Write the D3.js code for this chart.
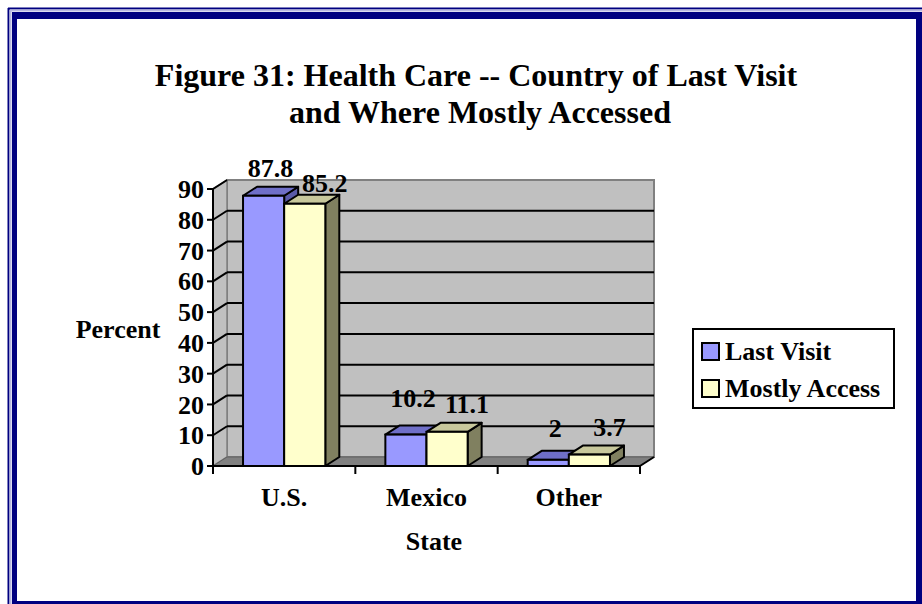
<!DOCTYPE html>
<html>
<head>
<meta charset="utf-8">
<script src="https://cdn.jsdelivr.net/npm/d3@7"></script>
<style>
  html, body { margin: 0; padding: 0; background: #fff; }
  svg { display: block; }
  text { font-family: "Liberation Serif", "Times New Roman", serif; font-weight: bold; fill: #000; }
</style>
</head>
<body>
<svg id="chart" width="922" height="604"></svg>
<script>
// ---- data ----
const categories = ["U.S.", "Mexico", "Other"];
const seriesNames = ["Last Visit", "Mostly Access"];
const lastVisit = [87.8, 10.2, 2];
const mostlyAccess = [85.2, 11.1, 3.7];
const yTicks = [0, 10, 20, 30, 40, 50, 60, 70, 80, 90];
const titleLines = ["Figure 31: Health Care -- Country of Last Visit", "and Where Mostly Accessed"];
const yTitle = "Percent";
const xTitle = "State";

// ---- style ----
const frontColors = ["#9999ff", "#ffffcc"];
const topColors = ["#6f6fc8", "#c8c89c"];
const sideColors = ["#5a5aa8", "#808060"];
const DX = 14, DY = -9;
const labelDX = [0, 13];           // label nudges (x) per series
const labelDY = [[0, -9, -4], [7, 0, 0]]; // label nudges (y) per series per category

const svg = d3.select("#chart");

// ---- frame ----
const navy = "#000080";
svg.append("rect").attr("x", 12).attr("y", 12).attr("width", 910).attr("height", 592).attr("fill", navy);
svg.append("rect").attr("x", 17).attr("y", 19).attr("width", 899).attr("height", 582).attr("fill", "#fff");
svg.append("line").attr("x1", 8.5).attr("y1", 8).attr("x2", 8.5).attr("y2", 604).attr("stroke", navy).attr("stroke-width", 2);
svg.append("line").attr("x1", 8).attr("y1", 8.5).attr("x2", 922).attr("y2", 8.5).attr("stroke", navy).attr("stroke-width", 2);
svg.append("line").attr("x1", 10.5).attr("y1", 10).attr("x2", 10.5).attr("y2", 604).attr("stroke", "#b8b8e0").attr("stroke-width", 2);
svg.append("line").attr("x1", 10).attr("y1", 10.5).attr("x2", 922).attr("y2", 10.5).attr("stroke", "#b8b8e0").attr("stroke-width", 2);

// ---- title ----
svg.append("text").attr("x", 476).attr("y", 86).attr("text-anchor", "middle")
  .style("font-size", "32px").text(titleLines[0]);
svg.append("text").attr("x", 480).attr("y", 123).attr("text-anchor", "middle")
  .style("font-size", "32px").text(titleLines[1]);

// ---- scales ----
const x = d3.scaleBand().domain(categories).range([213, 640]).paddingInner(0).paddingOuter(0);
const xs = d3.scaleBand().domain(seriesNames).range([0, x.bandwidth()]).paddingInner(0).paddingOuter(0.73);
const y = d3.scaleLinear().domain([0, 90]).range([466, 189]);

const x0 = x.range()[0], x1 = x.range()[1];
const yb = y(0), yt = y(90);

// ---- walls ----
svg.append("rect").attr("x", x0 + DX).attr("y", yt + DY).attr("width", x1 - x0).attr("height", yb - yt)
  .attr("fill", "#c0c0c0").attr("stroke", "#808080").attr("stroke-width", 2);
svg.append("polygon")
  .attr("points", [[x0, yb], [x0 + DX, yb + DY], [x0 + DX, yt + DY], [x0, yt]].map(p => p.join(",")).join(" "))
  .attr("fill", "#c0c0c0").attr("stroke", "#808080").attr("stroke-width", 1.5);
svg.append("polygon")
  .attr("points", [[x0, yb], [x0 + DX, yb + DY], [x1 + DX, yb + DY], [x1, yb]].map(p => p.join(",")).join(" "))
  .attr("fill", "#808080").attr("stroke", "#606060").attr("stroke-width", 1);

// gridlines
yTicks.filter(v => v > 0 && v < 90).forEach(v => {
  svg.append("line").attr("x1", x0 + DX).attr("x2", x1 + DX).attr("y1", y(v) + DY).attr("y2", y(v) + DY)
    .attr("stroke", "#000").attr("stroke-width", 2);
});
yTicks.filter(v => v > 0).forEach(v => {
  svg.append("line").attr("x1", x0).attr("x2", x0 + DX).attr("y1", y(v)).attr("y2", y(v) + DY)
    .attr("stroke", "#000").attr("stroke-width", 2);
});

// ---- bars ----
const seriesData = [lastVisit, mostlyAccess];
categories.forEach((c, ci) => {
  seriesNames.forEach((s, si) => {
    const v = seriesData[si][ci];
    const bx = x(c) + xs(s), bw = xs.bandwidth();
    const top = y(v), bot = y(0);
    const g = svg.append("g");
    g.append("polygon")
      .attr("points", [[bx + bw, bot], [bx + bw + DX, bot + DY], [bx + bw + DX, top + DY], [bx + bw, top]].map(p => p.join(",")).join(" "))
      .attr("fill", sideColors[si]).attr("stroke", "#000").attr("stroke-width", 2).attr("stroke-linejoin", "round");
    g.append("polygon")
      .attr("points", [[bx, top], [bx + DX, top + DY], [bx + bw + DX, top + DY], [bx + bw, top]].map(p => p.join(",")).join(" "))
      .attr("fill", topColors[si]).attr("stroke", "#000").attr("stroke-width", 2).attr("stroke-linejoin", "round");
    g.append("rect").attr("x", bx).attr("y", top).attr("width", bw).attr("height", bot - top)
      .attr("fill", frontColors[si]).attr("stroke", "#000").attr("stroke-width", 2);
  });
});

// data labels
categories.forEach((c, ci) => {
  seriesNames.forEach((s, si) => {
    const v = seriesData[si][ci];
    const cx = x(c) + xs(s) + xs.bandwidth() / 2 + DX / 2 + labelDX[si];
    svg.append("text").attr("x", cx).attr("y", y(v) + DY - 10 + labelDY[si][ci])
      .attr("text-anchor", "middle").style("font-size", "26px").text(String(v));
  });
});

// ---- axes ----
svg.append("line").attr("x1", x0).attr("x2", x0).attr("y1", yb).attr("y2", yt).attr("stroke", "#000").attr("stroke-width", 2);
svg.append("line").attr("x1", x0 - 5).attr("x2", x1).attr("y1", yb).attr("y2", yb).attr("stroke", "#000").attr("stroke-width", 2);
svg.append("line").attr("x1", x1).attr("x2", x1 + DX).attr("y1", yb).attr("y2", yb + DY).attr("stroke", "#000").attr("stroke-width", 2);
yTicks.forEach(v => {
  svg.append("line").attr("x1", x0 - 6).attr("x2", x0).attr("y1", y(v)).attr("y2", y(v)).attr("stroke", "#000").attr("stroke-width", 2);
  svg.append("text").attr("x", x0 - 9).attr("y", y(v)).attr("dy", "0.35em").attr("text-anchor", "end")
    .style("font-size", "26px").text(v);
});
const xBounds = categories.map(c => x(c)).concat([x1]);
xBounds.forEach(b => {
  svg.append("line").attr("x1", b).attr("x2", b).attr("y1", yb).attr("y2", yb + 8).attr("stroke", "#000").attr("stroke-width", 2);
});
categories.forEach(c => {
  svg.append("text").attr("x", x(c) + x.bandwidth() / 2).attr("y", 506).attr("text-anchor", "middle")
    .style("font-size", "26px").text(c);
});
svg.append("text").attr("x", 434).attr("y", 550).attr("text-anchor", "middle").style("font-size", "26px").text(xTitle);
svg.append("text").attr("x", 118).attr("y", 338).attr("text-anchor", "middle").style("font-size", "26px").text(yTitle);

// ---- legend ----
const lg = svg.append("g");
lg.append("rect").attr("x", 693).attr("y", 329).attr("width", 201).attr("height", 79)
  .attr("fill", "#fff").attr("stroke", "#000").attr("stroke-width", 2);
seriesNames.forEach((s, i) => {
  const ly = 351 + i * 37;
  lg.append("rect").attr("x", 702).attr("y", ly - 8).attr("width", 17).attr("height", 17)
    .attr("fill", frontColors[i]).attr("stroke", "#000").attr("stroke-width", 2);
  lg.append("text").attr("x", 725).attr("y", ly + 9).style("font-size", "26px").text(s);
});
</script>
</body>
</html>
